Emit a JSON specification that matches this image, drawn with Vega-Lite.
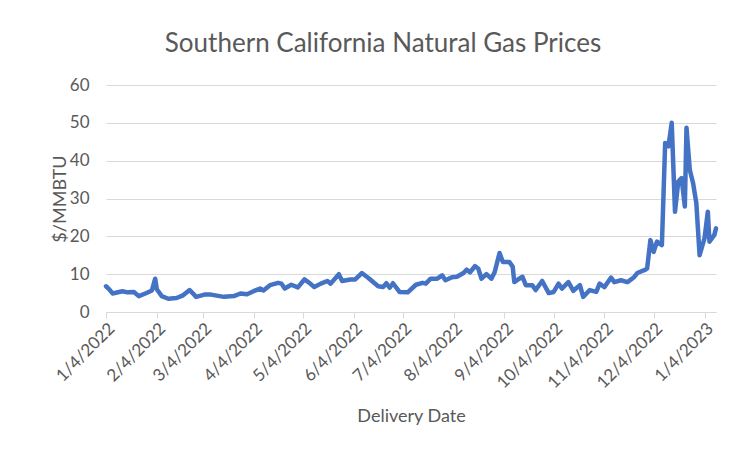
{
  "$schema": "https://vega.github.io/schema/vega-lite/v6.json",
  "width": 610,
  "height": 227,
  "autosize": "none",
  "padding": {"left": 106, "top": 85, "right": 20, "bottom": 137},
  "background": "white",
  "title": {
    "text": "Southern California Natural Gas Prices",
    "font": "Lato",
    "fontSize": 26,
    "fontWeight": "normal",
    "color": "#595959",
    "anchor": "middle",
    "dx": -28,
    "offset": 19
  },
  "data": {
    "values": [
      {"date": "2022-01-04", "price": 6.8},
      {"date": "2022-01-06", "price": 6.0},
      {"date": "2022-01-08", "price": 4.9},
      {"date": "2022-01-14", "price": 5.5},
      {"date": "2022-01-17", "price": 5.2},
      {"date": "2022-01-21", "price": 5.3},
      {"date": "2022-01-24", "price": 4.2},
      {"date": "2022-01-28", "price": 4.9},
      {"date": "2022-02-01", "price": 5.7},
      {"date": "2022-02-03", "price": 8.8},
      {"date": "2022-02-04", "price": 6.0},
      {"date": "2022-02-07", "price": 4.2},
      {"date": "2022-02-11", "price": 3.5},
      {"date": "2022-02-16", "price": 3.7},
      {"date": "2022-02-20", "price": 4.4},
      {"date": "2022-02-24", "price": 5.8},
      {"date": "2022-02-28", "price": 4.0},
      {"date": "2022-03-05", "price": 4.6},
      {"date": "2022-03-09", "price": 4.6},
      {"date": "2022-03-17", "price": 4.0},
      {"date": "2022-03-23", "price": 4.2},
      {"date": "2022-03-27", "price": 4.9},
      {"date": "2022-03-31", "price": 4.7},
      {"date": "2022-04-04", "price": 5.5},
      {"date": "2022-04-08", "price": 6.2},
      {"date": "2022-04-10", "price": 5.7},
      {"date": "2022-04-14", "price": 7.1},
      {"date": "2022-04-19", "price": 7.7},
      {"date": "2022-04-21", "price": 7.5},
      {"date": "2022-04-23", "price": 6.2},
      {"date": "2022-04-27", "price": 7.2},
      {"date": "2022-05-01", "price": 6.5},
      {"date": "2022-05-05", "price": 8.6},
      {"date": "2022-05-08", "price": 7.7},
      {"date": "2022-05-11", "price": 6.6},
      {"date": "2022-05-15", "price": 7.5},
      {"date": "2022-05-19", "price": 8.2},
      {"date": "2022-05-21", "price": 7.5},
      {"date": "2022-05-26", "price": 10.0},
      {"date": "2022-05-28", "price": 8.2},
      {"date": "2022-06-02", "price": 8.6},
      {"date": "2022-06-05", "price": 8.6},
      {"date": "2022-06-09", "price": 10.3},
      {"date": "2022-06-13", "price": 9.0},
      {"date": "2022-06-19", "price": 6.8},
      {"date": "2022-06-22", "price": 6.6},
      {"date": "2022-06-24", "price": 7.6},
      {"date": "2022-06-26", "price": 6.4},
      {"date": "2022-06-28", "price": 7.6},
      {"date": "2022-07-02", "price": 5.3},
      {"date": "2022-07-07", "price": 5.2},
      {"date": "2022-07-12", "price": 7.2},
      {"date": "2022-07-16", "price": 7.7},
      {"date": "2022-07-18", "price": 7.5},
      {"date": "2022-07-21", "price": 8.8},
      {"date": "2022-07-25", "price": 8.8},
      {"date": "2022-07-28", "price": 9.7},
      {"date": "2022-07-30", "price": 8.4},
      {"date": "2022-08-03", "price": 9.2},
      {"date": "2022-08-06", "price": 9.3},
      {"date": "2022-08-10", "price": 10.3},
      {"date": "2022-08-12", "price": 11.2},
      {"date": "2022-08-14", "price": 10.5},
      {"date": "2022-08-17", "price": 12.1},
      {"date": "2022-08-19", "price": 11.5},
      {"date": "2022-08-21", "price": 8.8},
      {"date": "2022-08-24", "price": 10.0},
      {"date": "2022-08-27", "price": 8.8},
      {"date": "2022-08-29", "price": 10.5},
      {"date": "2022-09-01", "price": 15.6},
      {"date": "2022-09-03", "price": 13.2},
      {"date": "2022-09-07", "price": 13.2},
      {"date": "2022-09-09", "price": 12.0},
      {"date": "2022-09-10", "price": 7.9},
      {"date": "2022-09-13", "price": 8.8},
      {"date": "2022-09-15", "price": 9.3},
      {"date": "2022-09-17", "price": 7.1},
      {"date": "2022-09-21", "price": 7.1},
      {"date": "2022-09-23", "price": 5.8},
      {"date": "2022-09-27", "price": 8.2},
      {"date": "2022-10-01", "price": 5.0},
      {"date": "2022-10-04", "price": 5.3},
      {"date": "2022-10-07", "price": 7.5},
      {"date": "2022-10-09", "price": 6.2},
      {"date": "2022-10-13", "price": 7.9},
      {"date": "2022-10-16", "price": 5.6},
      {"date": "2022-10-20", "price": 7.1},
      {"date": "2022-10-22", "price": 4.0},
      {"date": "2022-10-26", "price": 5.8},
      {"date": "2022-10-30", "price": 5.3},
      {"date": "2022-11-01", "price": 7.5},
      {"date": "2022-11-04", "price": 6.6},
      {"date": "2022-11-08", "price": 9.1},
      {"date": "2022-11-10", "price": 7.9},
      {"date": "2022-11-14", "price": 8.4},
      {"date": "2022-11-18", "price": 7.9},
      {"date": "2022-11-22", "price": 9.2},
      {"date": "2022-11-24", "price": 10.3},
      {"date": "2022-11-29", "price": 11.2},
      {"date": "2022-11-30", "price": 11.5},
      {"date": "2022-12-02", "price": 19.0},
      {"date": "2022-12-04", "price": 15.9},
      {"date": "2022-12-06", "price": 18.6},
      {"date": "2022-12-09", "price": 17.7},
      {"date": "2022-12-11", "price": 44.7},
      {"date": "2022-12-13", "price": 43.8},
      {"date": "2022-12-15", "price": 50.0},
      {"date": "2022-12-17", "price": 26.5},
      {"date": "2022-12-19", "price": 34.5},
      {"date": "2022-12-21", "price": 35.4},
      {"date": "2022-12-23", "price": 27.9},
      {"date": "2022-12-24", "price": 48.7},
      {"date": "2022-12-26", "price": 37.6},
      {"date": "2022-12-28", "price": 34.1},
      {"date": "2022-12-30", "price": 28.8},
      {"date": "2023-01-01", "price": 15.0},
      {"date": "2023-01-04", "price": 19.5},
      {"date": "2023-01-06", "price": 26.5},
      {"date": "2023-01-07", "price": 18.6},
      {"date": "2023-01-10", "price": 20.4},
      {"date": "2023-01-11", "price": 22.1}
    ]
  },
  "mark": {"type": "line", "color": "#4472C4", "strokeWidth": 4.5, "strokeJoin": "round", "strokeCap": "round"},
  "encoding": {
    "x": {
      "field": "date",
      "type": "temporal",
      "scale": {
        "type": "utc",
        "domain": [
          {"year": 2022, "month": 1, "date": 4, "utc": true},
          {"year": 2023, "month": 1, "date": 11, "utc": true}
        ]
      },
      "axis": {
        "title": "Delivery Date",
        "values": [
          {"year": 2022, "month": 1, "date": 4, "utc": true},
          {"year": 2022, "month": 2, "date": 4, "utc": true},
          {"year": 2022, "month": 3, "date": 4, "utc": true},
          {"year": 2022, "month": 4, "date": 4, "utc": true},
          {"year": 2022, "month": 5, "date": 4, "utc": true},
          {"year": 2022, "month": 6, "date": 4, "utc": true},
          {"year": 2022, "month": 7, "date": 4, "utc": true},
          {"year": 2022, "month": 8, "date": 4, "utc": true},
          {"year": 2022, "month": 9, "date": 4, "utc": true},
          {"year": 2022, "month": 10, "date": 4, "utc": true},
          {"year": 2022, "month": 11, "date": 4, "utc": true},
          {"year": 2022, "month": 12, "date": 4, "utc": true},
          {"year": 2023, "month": 1, "date": 4, "utc": true}
        ],
        "labelExpr": "utcFormat(datum.value, '%-m/%-d/%Y')",
        "labelAngle": -45,
        "labelAlign": "right",
        "labelBaseline": "top",
        "labelFont": "Lato",
        "labelFontSize": 17,
        "labelColor": "#595959",
        "labelOverlap": false,
        "labelFlush": false,
        "labelPadding": 2,
        "domainColor": "#d9d9d9",
        "domainWidth": 1,
        "tickColor": "#d9d9d9",
        "tickSize": 6,
        "grid": false,
        "titleFont": "Lato",
        "titleFontSize": 18,
        "titleFontWeight": "normal",
        "titleColor": "#595959",
        "titleY": 104,
        "titleBaseline": "middle"
      }
    },
    "y": {
      "field": "price",
      "type": "quantitative",
      "scale": {"domain": [0, 60], "nice": false},
      "axis": {
        "title": "$/MMBTU",
        "values": [0, 10, 20, 30, 40, 50, 60],
        "domain": false,
        "ticks": false,
        "grid": true,
        "gridColor": "#d9d9d9",
        "gridWidth": 1,
        "labelPadding": 17,
        "labelFont": "Lato",
        "labelFontSize": 17,
        "labelColor": "#595959",
        "titleFont": "Lato",
        "titleFontSize": 18,
        "titleFontWeight": "normal",
        "titleColor": "#595959",
        "titleX": -46,
        "titleBaseline": "middle"
      }
    }
  },
  "config": {"view": {"stroke": null}}
}
